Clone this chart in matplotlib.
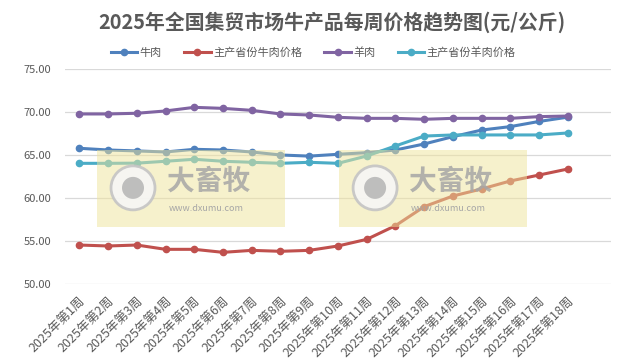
import matplotlib
matplotlib.use("Agg")
import matplotlib.pyplot as plt
from matplotlib.patches import Rectangle, Ellipse

plt.rcParams['font.family'] = ['Noto Sans CJK SC', 'DejaVu Sans']

weeks = [f"2025年第{i}周" for i in range(1, 19)]

beef = [65.78, 65.58, 65.47, 65.35, 65.66, 65.58, 65.35, 65.00, 64.87,
        65.08, 65.27, 65.58, 66.28, 67.13, 67.90, 68.30, 68.90, 69.40]
beef_main = [54.53, 54.42, 54.53, 54.03, 54.03, 53.68, 53.91, 53.80, 53.91,
             54.42, 55.19, 56.78, 58.99, 60.23, 61.05, 61.98, 62.67, 63.37]
mutton = [69.77, 69.77, 69.85, 70.12, 70.54, 70.42, 70.19, 69.77, 69.65,
          69.38, 69.26, 69.26, 69.15, 69.26, 69.26, 69.26, 69.46, 69.53]
mutton_main = [64.03, 64.03, 64.05, 64.27, 64.50, 64.27, 64.15, 64.03, 64.15,
               64.03, 64.88, 66.05, 67.20, 67.33, 67.33, 67.33, 67.33, 67.56]

series = [("牛肉", beef, "#4F81BD"),
          ("主产省份牛肉价格", beef_main, "#C0504D"),
          ("羊肉", mutton, "#8064A2"),
          ("主产省份羊肉价格", mutton_main, "#4BACC6")]

fig = plt.figure(figsize=(6.2, 3.64), dpi=100)
ax = fig.add_axes([0.1048, 0.2198, 0.8806, 0.5907])

x = list(range(len(weeks)))
for name, vals, col in series:
    ax.plot(x, vals, color=col, lw=2.2, marker='o', ms=4.5, label=name, zorder=3)

ax.set_xlim(-0.5, 18.5)
ax.set_ylim(50, 75)
ax.set_yticks([50, 55, 60, 65, 70, 75])
ax.set_yticklabels([f"{v:.2f}" for v in [50, 55, 60, 65, 70, 75]])
ax.set_xticks(x)
ax.set_xticklabels(weeks, rotation=45, ha='right', va='top', rotation_mode='anchor')
ax.tick_params(axis='both', length=0, colors='#595959', labelsize=8)
ax.tick_params(axis='x', pad=8, labelsize=9)
ax.tick_params(axis='y', pad=10)
ax.grid(axis='y', color='#D9D9D9', lw=0.9)
ax.set_axisbelow(True)
for s in ax.spines.values():
    s.set_visible(False)

# watermark blocks (circle sized in pixels -> axes fraction)
rx, ry = 44 / 546, 44 / 215
for x0 in [0.0586, 0.502]:
    ax.add_patch(Rectangle((x0, 0.265), 0.345, 0.358, transform=ax.transAxes,
                           facecolor='#EFE49A', alpha=0.5, edgecolor='none', zorder=5))
    cx, cy = x0 + 0.066, 0.447
    ax.add_patch(Ellipse((cx, cy), rx, ry, transform=ax.transAxes, facecolor='#F6F6F6',
                         edgecolor='#C4C4C4', lw=2, alpha=0.9, zorder=6))
    ax.add_patch(Ellipse((cx, cy), rx * 0.5, ry * 0.5, transform=ax.transAxes,
                         facecolor='#B8B8B8', edgecolor='none', alpha=0.9, zorder=6))
    ax.text(cx + 0.062, 0.475, "大畜牧", transform=ax.transAxes, fontsize=20,
            fontweight='bold', color='#A6A6A6', alpha=0.85, va='center', ha='left', zorder=6)
    ax.text(cx + 0.066, 0.353, "www.dxumu.com", transform=ax.transAxes, fontsize=6.5,
            color='#A6A6A6', va='center', ha='left', zorder=6)

fig.text(0.535, 0.94, "2025年全国集贸市场牛产品每周价格趋势图(元/公斤)", ha='center',
         va='center', fontsize=14.3, fontweight='bold', color='#595959')
fig.legend(loc='center', bbox_to_anchor=(0.505, 0.855), ncol=4, frameon=False,
           fontsize=8, labelcolor='#595959', handlelength=2.4, handletextpad=0.2,
           columnspacing=2.0)

fig.savefig("out.png", dpi=100)
